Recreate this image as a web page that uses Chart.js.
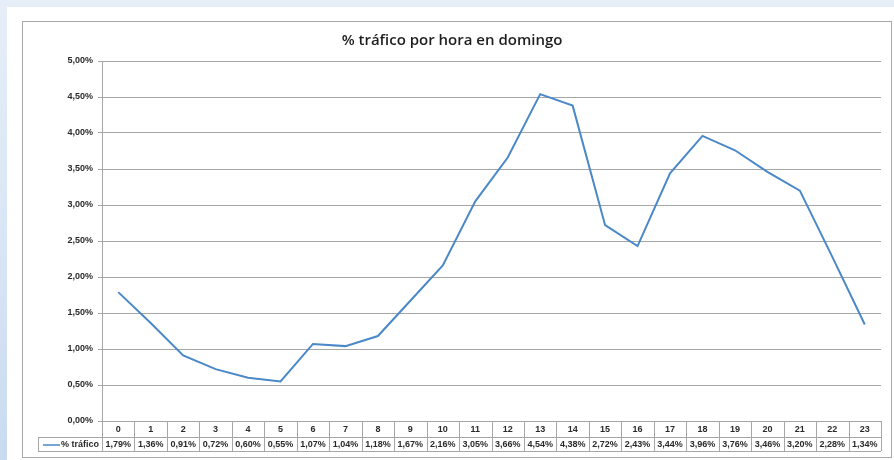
<!DOCTYPE html>
<html>
<head>
<meta charset="utf-8">
<script src="https://cdn.jsdelivr.net/npm/chart.js@4"></script>
<style>
  html, body { margin: 0; padding: 0; }
  body {
    width: 894px; height: 460px; overflow: hidden; position: relative;
    background: linear-gradient(180deg, #e6eef8 0%, #d6e4f4 60%, #c8dbef 100%);
  }
  .sheet {
    position: absolute; left: 7px; top: 7px; width: 887px; height: 453px;
    background: #fff;
  }
  .frame {
    position: absolute; left: 22px; top: 21px; width: 868px; height: 435px;
    border: 1px solid #a8a8a8; background: #fff;
  }
  canvas { display: block; }
</style>
</head>
<body>
<div class="sheet"></div>
<div class="frame"><canvas id="trafficChart" width="868" height="435"></canvas></div>
<script>
const hours = ['0', '1', '2', '3', '4', '5', '6', '7', '8', '9', '10', '11',
  '12', '13', '14', '15', '16', '17', '18', '19', '20', '21', '22', '23'];
const seriesName = '% tráfico';
const trafico = [1.79, 1.36, 0.91, 0.72, 0.60, 0.55, 1.07, 1.04, 1.18, 1.67, 2.16, 3.05,
  3.66, 4.54, 4.38, 2.72, 2.43, 3.44, 3.96, 3.76, 3.46, 3.20, 2.28, 1.34];

const lineColor = '#4a88c8';
const gridColor = '#a6a6a6';
const textColor = '#2a2a2a';
const tableFont = "bold 9px 'Liberation Sans', sans-serif";

const pct = (v) => v.toFixed(2).replace('.', ',') + '%';

// Excel-style data table under the plot
const dataTable = {
  id: 'dataTable',
  afterDraw(chart) {
    const { ctx, chartArea } = chart;
    const x = chart.scales.x;
    const top = chartArea.bottom;
    const mid = top + 16;
    const bottom = top + 30;
    const colW = (chartArea.right - chartArea.left) / hours.length;
    const legendLeft = 15;

    ctx.save();
    ctx.strokeStyle = gridColor;
    ctx.lineWidth = 1;
    ctx.beginPath();
    ctx.moveTo(chartArea.left, top + 0.5);
    ctx.lineTo(chartArea.right, top + 0.5);
    ctx.moveTo(legendLeft, mid + 0.5);
    ctx.lineTo(chartArea.right, mid + 0.5);
    ctx.moveTo(legendLeft, bottom + 0.5);
    ctx.lineTo(chartArea.right, bottom + 0.5);
    ctx.moveTo(legendLeft + 0.5, mid);
    ctx.lineTo(legendLeft + 0.5, bottom);
    for (let i = 0; i <= hours.length; i++) {
      const px = Math.round(chartArea.left + i * colW) + 0.5;
      ctx.moveTo(px, top);
      ctx.lineTo(px, bottom);
    }
    ctx.stroke();

    ctx.font = tableFont;
    ctx.fillStyle = textColor;
    ctx.textAlign = 'center';
    ctx.textBaseline = 'middle';
    hours.forEach((h, i) => {
      const cx = x.getPixelForValue(i);
      ctx.fillText(h, cx, top + 9);
      ctx.fillText(pct(trafico[i]), cx, mid + 8);
    });

    // legend key in the row header
    ctx.strokeStyle = lineColor;
    ctx.lineWidth = 1.5;
    ctx.beginPath();
    ctx.moveTo(legendLeft + 5, mid + 8);
    ctx.lineTo(legendLeft + 22, mid + 8);
    ctx.stroke();
    ctx.textAlign = 'right';
    ctx.fillText(seriesName, chartArea.left - 3, mid + 8);
    ctx.restore();
  }
};

new Chart(document.getElementById('trafficChart'), {
  type: 'line',
  data: {
    labels: hours,
    datasets: [{
      label: seriesName,
      data: trafico,
      borderColor: lineColor,
      borderWidth: 2,
      pointRadius: 0,
      tension: 0,
      fill: false
    }]
  },
  options: {
    responsive: false,
    animation: false,
    layout: { padding: { left: 0, right: 10, top: 0, bottom: 6 } },
    plugins: {
      legend: { display: false },
      tooltip: { enabled: false },
      title: {
        display: true,
        text: '% tráfico por hora en domingo',
        color: '#1e1e1e',
        font: { family: "'Open Sans', sans-serif", size: 15, weight: 600 },
        padding: { top: 10, bottom: 11 }
      }
    },
    scales: {
      x: {
        type: 'category',
        offset: true,
        grid: { display: false },
        border: { display: false },
        ticks: { display: false },
        afterFit(scale) { scale.height = 30; }
      },
      y: {
        min: 0,
        max: 5,
        ticks: {
          stepSize: 0.5,
          color: textColor,
          font: { family: "'Liberation Sans', sans-serif", size: 9, weight: 'bold' },
          padding: 5,
          callback: (v) => pct(v)
        },
        grid: { color: gridColor, tickLength: 4 },
        border: { color: gridColor },
        afterFit(scale) { scale.width = 79; }
      }
    }
  },
  plugins: [dataTable]
});
</script>
</body>
</html>
